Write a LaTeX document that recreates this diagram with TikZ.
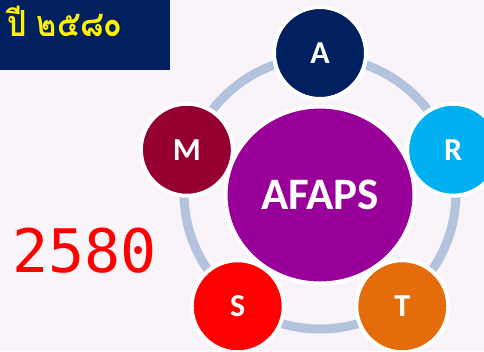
\documentclass[tikz,border=0pt]{standalone}
\usepackage{fontspec}
\setmainfont{Carlito}
\newfontfamily\thaifont[Script=Thai]{Loma}
\newfontfamily\digitfont{DejaVu Sans Mono}
\usetikzlibrary{shapes.geometric}
\definecolor{paper}{HTML}{F8F4F9}
\definecolor{navy}{HTML}{002060}
\definecolor{ringblue}{HTML}{B3C3DE}
\definecolor{coreviolet}{HTML}{990099}
\definecolor{colA}{HTML}{002060}
\definecolor{colR}{HTML}{00B0F0}
\definecolor{colT}{HTML}{E46C0A}
\definecolor{colS}{HTML}{FF0000}
\definecolor{colM}{HTML}{960030}
\tikzset{
  petal/.style={circle, draw=white, line width=4pt, minimum size=92pt, inner sep=0pt,
    text=white, font=\bfseries\fontsize{32}{32}\selectfont},
  core/.style={ellipse, draw=white, line width=4pt, fill=coreviolet, minimum width=189pt,
    minimum height=177pt, inner sep=0pt, text=white, font=\bfseries\fontsize{45}{45}\selectfont}
}

\begin{document}
\begin{tikzpicture}[x=1pt,y=-1pt]
  \fill[paper] (0,0) rectangle (484,351);
  \useasboundingbox (0,0) rectangle (484,351);
  % title box
  \fill[navy] (0,0) rectangle (170,70);
  \node[anchor=base west, inner sep=0pt, text=yellow, xscale=0.85, transform shape,
    font=\thaifont\bfseries\fontsize{36}{36}\selectfont] (year) at (7,36) {ปี ๒๕๘๐};
  \node[anchor=base west, inner sep=0pt, text=red, font=\digitfont\fontsize{60}{60}\selectfont] (num) at (12,272) {2580};
  % wheel
  \coordinate (hub) at (320,193);
  \draw[ringblue, line width=9pt] (hub) circle[radius=136];
  \node[core] (afaps) at ([yshift=-2pt]hub) {AFAPS};
  \foreach \ang/\lbl in {-90/A, -18/R, 54/T, 126/S, 198/M}
    \node[petal, fill=col\lbl] (p\lbl) at ([shift={(\ang:140)}]hub) {\lbl};
\end{tikzpicture}
\end{document}
